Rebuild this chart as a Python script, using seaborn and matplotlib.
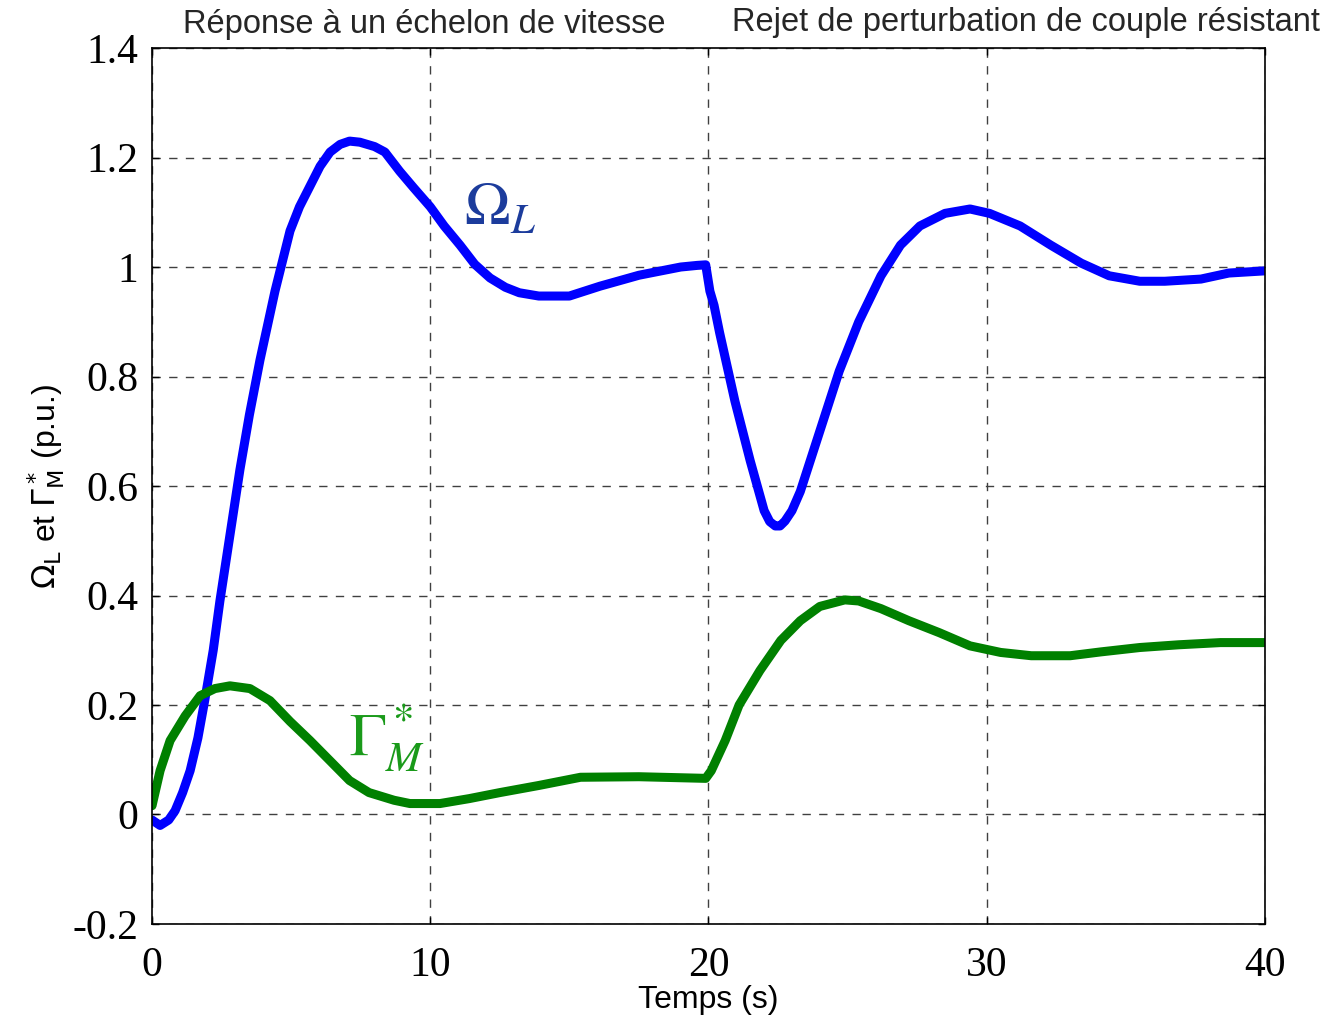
import numpy as np
import pandas as pd
import matplotlib
matplotlib.use("Agg")
import matplotlib.pyplot as plt
import seaborn as sns

# --- data ---
t_omega = [0, 0.29, 0.6, 0.83, 1.1, 1.37, 1.65, 1.9, 2.2, 2.44, 2.8, 3.16, 3.5, 3.88, 4.42,
           4.96, 5.3, 5.68, 6.04, 6.4, 6.76, 7.1, 7.47, 8.0, 8.37, 8.9, 9.4,
           10.0, 10.5, 11.07, 11.6, 12.15, 12.7, 13.2, 13.9, 15.0, 16.1, 17.5, 19.0, 19.6,
           19.9, 20.05, 20.2, 20.4, 20.95, 21.5, 22.0, 22.2, 22.4, 22.57, 22.75, 23.0, 23.3,
           24.0, 24.7, 25.4, 26.2, 26.9, 27.6, 28.5, 29.4, 30.1, 31.2, 32.3, 33.4, 34.4,
           35.5, 36.4, 37.7, 38.7, 40.0]
omega_L = [-0.01, -0.02, -0.01, 0.007, 0.04, 0.08, 0.14, 0.21, 0.30, 0.39, 0.51, 0.63, 0.73,
           0.83, 0.956, 1.066, 1.11, 1.148, 1.184, 1.21, 1.224, 1.23, 1.228, 1.22, 1.21, 1.175,
           1.145, 1.11, 1.075, 1.04, 1.005, 0.98, 0.963, 0.953, 0.947, 0.947, 0.965, 0.985,
           1.0, 1.003, 1.004, 0.956, 0.93, 0.88, 0.755, 0.646, 0.555, 0.535, 0.527, 0.527,
           0.536, 0.555, 0.59, 0.70, 0.81, 0.90, 0.984, 1.04, 1.075, 1.098, 1.106, 1.098,
           1.075, 1.04, 1.007, 0.984, 0.974, 0.974, 0.978, 0.989, 0.993]

t_gamma = [0, 0.29, 0.65, 1.19, 1.73, 2.26, 2.8, 3.52, 4.24, 4.96, 5.68, 6.4, 7.1, 7.8, 8.7,
           9.27, 10.35, 11.4, 12.5, 13.9, 15.4, 17.5, 19.9, 20.1, 20.6, 21.1, 21.85, 22.6,
           23.3, 24.0, 24.9, 25.4, 26.2, 27.2, 28.3, 29.4, 30.5, 31.6, 33.0, 34.1, 35.5,
           36.9, 38.4, 40.0]
gamma_M = [0.016, 0.08, 0.135, 0.18, 0.217, 0.23, 0.235, 0.23, 0.208, 0.17, 0.135, 0.098,
           0.062, 0.04, 0.026, 0.02, 0.02, 0.029, 0.04, 0.053, 0.068, 0.069, 0.066, 0.08,
           0.135, 0.2, 0.263, 0.318, 0.354, 0.38, 0.392, 0.39, 0.376, 0.354, 0.332, 0.308,
           0.296, 0.29, 0.29, 0.297, 0.305, 0.31, 0.314, 0.314]

x_ticks = [0, 10, 20, 30, 40]
y_ticks = [-0.2, 0, 0.2, 0.4, 0.6, 0.8, 1, 1.2, 1.4]
y_ticklabels = ["-0.2", "0", "0.2", "0.4", "0.6", "0.8", "1", "1.2", "1.4"]

df_o = pd.DataFrame({"t": t_omega, "v": omega_L})
df_g = pd.DataFrame({"t": t_gamma, "v": gamma_M})

sns.set_theme(style="white")
plt.rcParams["mathtext.fontset"] = "stix"

fig = plt.figure(figsize=(13.3, 10.22), dpi=100)
ax = fig.add_axes([0.1143, 0.0959, 0.8368, 0.8571])

sns.lineplot(data=df_o, x="t", y="v", ax=ax, color=(0, 0, 1), linewidth=6.5, sort=False,
             solid_joinstyle="round", solid_capstyle="round")
sns.lineplot(data=df_g, x="t", y="v", ax=ax, color=(0, 0.5, 0), linewidth=6.5, sort=False,
             solid_joinstyle="round", solid_capstyle="round")

ax.set_xlim(0, 40)
ax.set_ylim(-0.2, 1.4)
ax.set_xticks(x_ticks)
ax.set_xticklabels([str(v) for v in x_ticks])
ax.set_yticks(y_ticks)
ax.set_yticklabels(y_ticklabels)
for lab in ax.get_xticklabels() + ax.get_yticklabels():
    lab.set_fontfamily("Liberation Serif")
    lab.set_fontsize(30)
    lab.set_color("black")
ax.tick_params(direction="in", length=5, width=1, color="black", top=True, right=True,
               bottom=True, left=True, pad=10)
ax.tick_params(axis="x", pad=16)

ax.grid(True, color="0.25", linestyle=(0, (6, 6)), linewidth=1)
for s in ax.spines.values():
    s.set_visible(True)
    s.set_color("black")
    s.set_linewidth(1.2)

ax.set_xlabel("Temps (s)", fontfamily="Liberation Sans", fontsize=23, color="black", labelpad=0)
ax.set_ylabel(r"$\Omega_{\mathrm{L}}$ et $\Gamma^*_{\mathrm{M}}$ (p.u.)",
              fontfamily="Liberation Sans", fontsize=23, color="black", labelpad=4,
              math_fontfamily="dejavusans")

ax.text(12.5, 1.105, r"$\Omega_L$", fontsize=44, color="#1c3c9c", ha="center", va="center")
ax.text(8.45, 0.14, r"$\Gamma^*_M$", fontsize=44, color="#1a9a1a", ha="center", va="center")

fig.text(424 / 1330, 1 - 24 / 1022, "Réponse à un échelon de vitesse",
         fontfamily="Liberation Sans", fontsize=23.5, ha="center", va="center")
fig.text(1026 / 1330, 1 - 22 / 1022, "Rejet de perturbation de couple résistant",
         fontfamily="Liberation Sans", fontsize=23.5, ha="center", va="center")

fig.savefig("out.png", dpi=100, facecolor="white")
